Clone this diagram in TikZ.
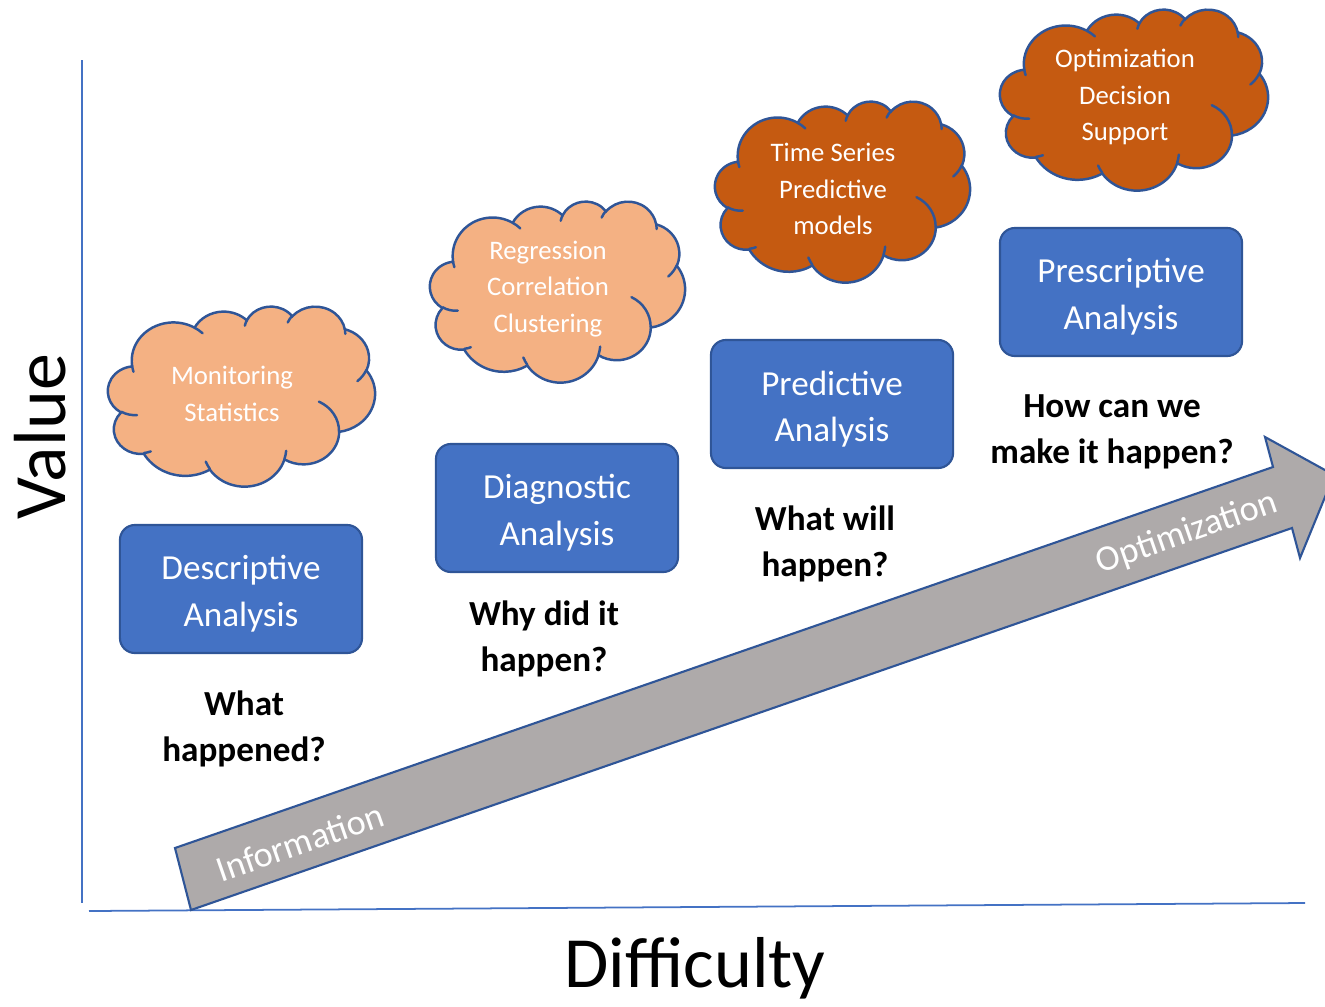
\documentclass[tikz,border=0pt]{standalone}
\usepackage{fontspec}
\setmainfont{Carlito}
\definecolor{boxblue}{HTML}{4472C4}
\definecolor{edgeblue}{HTML}{2F5597}
\definecolor{lightpeach}{HTML}{F4B183}
\definecolor{burnt}{HTML}{C55A11}
\definecolor{arrowgray}{HTML}{AEAAAA}

% cloud outline: fill colour, top left corner, width, height
\newcommand{\cloudshape}[5]{%
  \begin{scope}[shift={(#2,#3)}, xscale=#4/432, yscale=#5/432]
  \draw[puff, fill=#1] (39,143.7)
    foreach \a/\b/\s/\w in {67.53/91.90/-190.4875/123.7805, 53.33/72.67/-144.1024/89.9452,
                            43.65/59.45/-145.8079/99.7230, 48.57/65.95/-130.9861/117.2417,
                            53.33/72.73/-78.7089/109.0269, 67.75/92.20/-46.2673/130.2690,
                            57.85/78.67/0.6250/114.0333, 67.52/92.15/22.4516/115.1726,
                            77.20/105.43/66.2426/75.7110, 43.60/59.18/-274.9421/146.7356,
                            43.45/59.45/-246.8285/152.5189}
    {arc[x radius=\a, y radius=\b, start angle={atan2(\a*sin(\s),\b*cos(\s))},
         delta angle={mod(atan2(\a*sin(\s+\w),\b*cos(\s+\w))-atan2(\a*sin(\s),\b*cos(\s))+720,360)}]}
    -- cycle;
  \draw[puff]
    foreach \px/\py/\a/\b/\s/\w in {46.93/261.77/43.45/59.45/86.742/26.4295,
                                    69.28/348.99/43.60/59.18/73.6105/11.4475,
                                    164.78/390.90/67.52/92.15/137.6242/14.0811,
                                    288.27/347.51/67.52/92.15/6.4533/15.9984,
                                    341.29/229.54/57.85/78.67/-70.2924/70.9174,
                                    417.98/153.54/53.33/72.73/30.3180/27.7515,
                                    383.24/54.26/48.57/65.95/-13.7443/14.8589,
                                    290.78/39.52/48.57/65.95/-149.1815/18.1954,
                                    221.41/47.20/43.65/59.45/-163.4943/17.6864,
                                    140.00/51.92/67.53/91.90/-66.7070/12.3194,
                                    41.27/157.89/67.53/91.90/157.6544/11.8582}
    {(\px,\py) arc[x radius=\a, y radius=\b, start angle={atan2(\a*sin(\s),\b*cos(\s))},
         delta angle={mod(atan2(\a*sin(\s+\w),\b*cos(\s+\w))-atan2(\a*sin(\s),\b*cos(\s))+720,360)}]};
  \end{scope}}

\begin{document}
\begin{tikzpicture}[x=0.01cm, y=-0.01cm,
  stagebox/.style={draw=edgeblue, line width=0.6pt, fill=boxblue,
    rounded corners=0.15cm, minimum width=2.42cm, minimum height=1.28cm},
  boxtext/.style={text=white, align=center, font=\fontsize{10}{13.3}\selectfont},
  puff/.style={draw=edgeblue, line width=0.7pt, line cap=round},
  pufftext/.style={text=white, align=center, font=\fontsize{7.6}{10.3}\selectfont},
  question/.style={align=center, font=\fontsize{10}{13}\selectfont\bfseries},
  arrowtext/.style={text=white, rotate=19.1, font=\fontsize{10.3}{12}\selectfont}]
\useasboundingbox (0,0) rectangle (1325,1006);
\clip (0,0) rectangle (1325,1006);

% axes
\coordinate (top) at (82,60);
\coordinate (origin) at (82,903);
\coordinate (left) at (89,911);
\coordinate (right) at (1305,903);
\draw[boxblue, line width=0.5pt] (top) -- (origin);
\draw[boxblue, line width=0.5pt] (left) -- (right);
\node[rotate=90, font=\fontsize{21}{24}\selectfont] (value) at (40,437) {Value};
\node[font=\fontsize{20.5}{24}\selectfont] (difficulty) at (695,968) {Difficulty};

% the big arrow
\draw[fill=arrowgray, draw=edgeblue, line width=0.6pt, line join=miter]
  (175,848) -- (1273,467) -- (1265,437) -- (1334,475) -- (1300,558)
  -- (1292,528) -- (191,910) -- cycle;
\node[arrowtext] (info) at (300,842) {Information};
\node[arrowtext] (optim) at (1187,533) {Optimization};

% clouds
\cloudshape{lightpeach}{108}{306}{267}{180}
\cloudshape{lightpeach}{430}{201}{255}{181}
\cloudshape{burnt}{715}{101}{255}{181}
\cloudshape{burnt}{1000}{9}{268}{181}
\foreach \n/\x/\y/\t in {1/232/394/{Monitoring\\Statistics},
                         2/548/289/{Regression\\Correlation\\Clustering},
                         3/833/189/{Time Series\\Predictive\\models},
                         4/1125/97/{Optimization\\Decision\\Support}}
	{\node[pufftext] (cloudtext\n) at (\x, \y) {\t};};

% analysis boxes
\foreach \n/\x/\y/\t in {1/241/589/{Descriptive\\Analysis},
                         2/557/508/{Diagnostic\\Analysis},
                         3/832/404/{Predictive\\Analysis},
                         4/1121/292/{Prescriptive\\Analysis}}
	{\node[stagebox] (box\n) at (\x, \y) {};
	 \node[boxtext] (boxtext\n) at ([yshift=-0.05cm]box\n.center) {\t};};

% questions
\foreach \n/\x/\y/\t in {1/244/729/{What\\happened?},
                         2/544/639/{Why did it\\happen?},
                         3/825/544/{What will\\happen?},
                         4/1112/432/{How can we\\make it happen?}}
	{\node[question] (ask\n) at (\x, \y) {\t};};
\end{tikzpicture}
\end{document}
